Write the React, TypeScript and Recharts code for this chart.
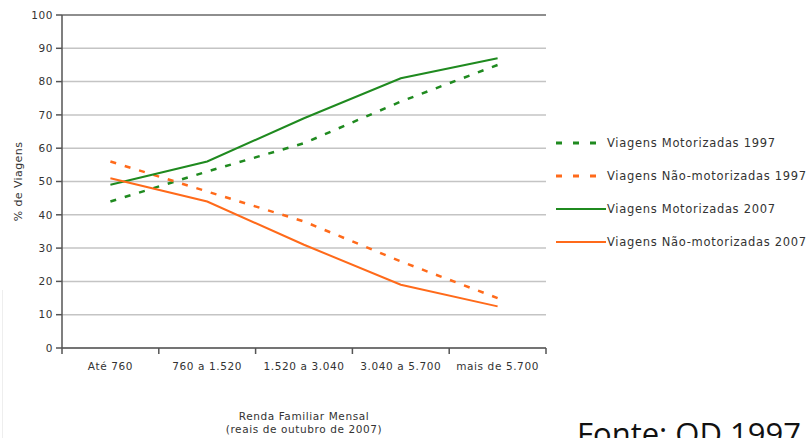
import {
  LineChart, Line, XAxis, YAxis, CartesianGrid, ReferenceLine,
} from "recharts";

const categories = ["Até 760", "760 a 1.520", "1.520 a 3.040", "3.040 a 5.700", "mais de 5.700"];
const motor1997 = [44, 53, 61.5, 74, 85];
const naoMotor1997 = [56, 47, 38, 26, 15];
const motor2007 = [49, 56, 69, 81, 87];
const naoMotor2007 = [51, 44, 31, 19, 12.5];
const yTicks = [0, 10, 20, 30, 40, 50, 60, 70, 80, 90, 100];

const GREEN = "#1f8a1f";
const ORANGE = "#ff6a1a";
const FONT = "'DejaVu Sans', Verdana, sans-serif";

const data = categories.map((cat, i) => ({
  cat,
  m97: motor1997[i],
  n97: naoMotor1997[i],
  m07: motor2007[i],
  n07: naoMotor2007[i],
}));

const legendItems = [
  { label: "Viagens Motorizadas 1997", color: GREEN, dashed: true },
  { label: "Viagens Não-motorizadas 1997", color: ORANGE, dashed: true },
  { label: "Viagens Motorizadas 2007", color: GREEN, dashed: false },
  { label: "Viagens Não-motorizadas 2007", color: ORANGE, dashed: false },
];

function LegendBox() {
  return (
    <div
      style={{
        position: "absolute", left: 552, top: 126, fontFamily: FONT, fontSize: 11.5,
        letterSpacing: 0.7, color: "#333",
      }}
    >
      {legendItems.map((it) => (
        <div key={it.label} style={{ display: "flex", alignItems: "center", height: 33, whiteSpace: "nowrap" }}>
          <svg width={54} height={10} style={{ marginRight: 1 }}>
            {it.dashed ? (
              <line x1={4} x2={44} y1={5} y2={5} stroke={it.color} strokeWidth={3} strokeDasharray="6 11" />
            ) : (
              <line x1={4} x2={54} y1={5} y2={5} stroke={it.color} strokeWidth={2} />
            )}
          </svg>
          <span>{it.label}</span>
        </div>
      ))}
    </div>
  );
}

function XTick(props: any) {
  const { x, y, payload, index } = props;
  const off = payload.offset || 48.4;
  return (
    <g>
      <line x1={x - off} x2={x - off} y1={y - 6} y2={y} stroke="#555" strokeWidth={1.5} />
      {index === categories.length - 1 && (
        <line x1={x + off} x2={x + off} y1={y - 6} y2={y} stroke="#555" strokeWidth={1.5} />
      )}
      <text
        x={x} y={y + 16} textAnchor="middle" fontSize={10.5} fontFamily={FONT}
        letterSpacing={0.6} fill="#333"
      >
        {payload.value}
      </text>
    </g>
  );
}

export default function App() {
  return (
    <div style={{ position: "absolute", left: 0, top: 0, width: 812, height: 438, background: "#fff", overflow: "hidden" }}>
      <LineChart width={812} height={438} data={data} margin={{ top: 15, right: 266, left: 10, bottom: 0 }}>
        <CartesianGrid horizontal vertical={false} stroke="#c4c4c4" strokeWidth={1.5} yAxisId="l" />
        <XAxis
          dataKey="cat"
          scale="band"
          height={90}
          tickLine={false}
          tickSize={6}
          tickMargin={0}
          tick={<XTick />}
          interval={0}
          axisLine={{ stroke: "#555", strokeWidth: 1.5 }}
        />
        <YAxis
          yAxisId="l"
          width={52}
          domain={[0, 100]}
          ticks={yTicks}
          interval={0}
          tickSize={6}
          tickMargin={3}
          tick={{ fontSize: 10.5, fontFamily: FONT, fill: "#333", letterSpacing: 0.6 }}
          tickLine={{ stroke: "#555", strokeWidth: 1.5 }}
          axisLine={{ stroke: "#555", strokeWidth: 1.5 }}
          label={{
            value: "% de Viagens",
            angle: -90,
            position: "insideLeft",
            offset: 8,
            style: { fontSize: 11, fontFamily: FONT, fill: "#333", textAnchor: "middle", letterSpacing: 0.4 },
          }}
        />
        <YAxis
          yAxisId="r"
          orientation="right"
          width={0}
          domain={[0, 100]}
          tick={false}
          tickLine={false}
          axisLine={{ stroke: "#777", strokeWidth: 1.5 }}
        />
        <ReferenceLine yAxisId="l" y={100} stroke="#777" strokeWidth={1.5} />
        <Line yAxisId="l" dataKey="m97" stroke={GREEN} strokeWidth={2.5} strokeDasharray="6 9" dot={false} isAnimationActive={false} />
        <Line yAxisId="l" dataKey="n97" stroke={ORANGE} strokeWidth={2.5} strokeDasharray="6 9" dot={false} isAnimationActive={false} />
        <Line yAxisId="l" dataKey="m07" stroke={GREEN} strokeWidth={2} dot={false} isAnimationActive={false} />
        <Line yAxisId="l" dataKey="n07" stroke={ORANGE} strokeWidth={2} dot={false} isAnimationActive={false} />
      </LineChart>
      <LegendBox />
      <div
        style={{
          position: "absolute", left: 154, width: 300, top: 410, textAlign: "center",
          fontFamily: FONT, fontSize: 10.5, lineHeight: "13px", letterSpacing: 0.6, color: "#333",
        }}
      >
        Renda Familiar Mensal
        <br />
        (reais de outubro de 2007)
      </div>
      <div
        style={{
          position: "absolute", left: 577, top: 413, fontFamily: "'Open Sans', 'Noto Sans', sans-serif",
          fontSize: 31, lineHeight: "40px", color: "#111", whiteSpace: "nowrap",
        }}
      >
        Fonte: OD 1997
      </div>
      <div style={{ position: "absolute", left: 2, top: 290, width: 1, height: 148, background: "#eeeeee" }} />
    </div>
  );
}
